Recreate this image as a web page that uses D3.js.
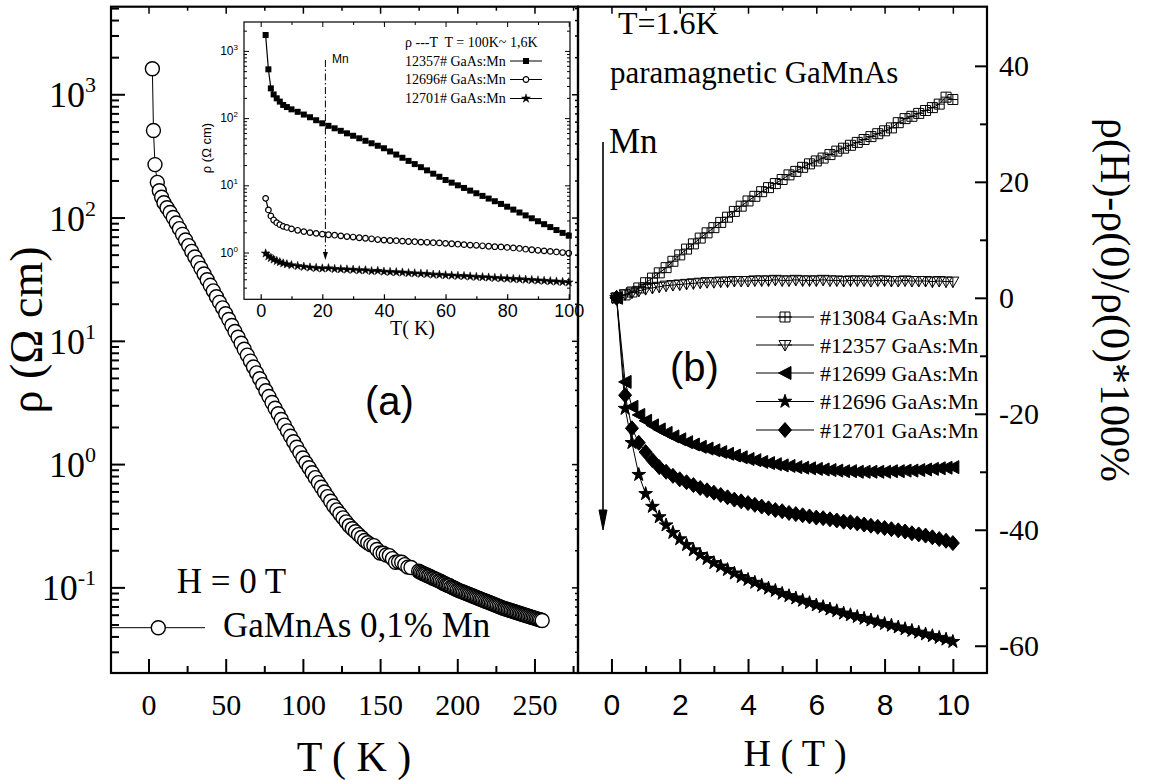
<!DOCTYPE html>
<html>
<head>
<meta charset="utf-8">
<script src="https://cdn.jsdelivr.net/npm/d3@7"></script>
<style>
  html, body { margin: 0; padding: 0; background: #fff; }
  svg { display: block; }
  text { white-space: pre; }
</style>
</head>
<body>
<svg id="chart" width="1160" height="780"></svg>
<script>
// ---------- (a) main panel: resistivity vs temperature, H = 0 ----------
const mainT = [2.5, 3.2, 4.2, 5.7, 7, 8.5,
  10, 12, 14, 16, 18, 20, 22, 24, 26, 28, 30, 32, 34, 36, 38, 40, 42, 44, 46, 48, 50,
  52, 54, 56, 58, 60, 62, 64, 66, 68, 70, 72, 74, 76, 78, 80, 82, 84, 86, 88, 90,
  92, 94, 96, 98, 100, 102, 104, 106, 108, 110, 112, 114, 116, 118, 120, 122, 124, 126, 128, 130,
  132, 134, 136, 138, 140, 142, 144, 146, 148, 150, 152, 154, 156, 158, 160, 162, 164, 166, 168, 170,
  175, 176, 177, 178, 179, 180, 181, 182, 183, 184, 185, 186, 187, 188, 189, 190, 191, 192, 193, 194,
  195, 196, 197, 198, 199, 200, 201, 202, 203, 204, 205, 206, 207, 208, 209, 210, 211, 212, 213, 214,
  215, 216, 217, 218, 219, 220, 221, 222, 223, 224, 225, 226, 227, 228, 229, 230, 231, 232, 233, 234,
  235, 236, 237, 238, 239, 240, 241, 242, 243, 244, 245, 246, 247, 248, 249, 250, 251, 252, 253, 254, 255];
const mainRho = [1610, 508, 269, 193, 165, 146,
  132, 120, 110, 100, 90.2, 81.3, 73.1, 65.8, 59.2, 53.2, 47.9, 43.1, 38.7, 34.8, 31.3, 28.2, 25.4, 22.8, 20.5, 18.5, 16.6,
  14.9, 13.3, 11.9, 10.7, 9.55, 8.55, 7.66, 6.85, 6.14, 5.50, 4.92, 4.41, 3.94, 3.53, 3.16, 2.84, 2.56, 2.30, 2.07, 1.86,
  1.68, 1.52, 1.37, 1.24, 1.12, 1.02, 0.933, 0.851, 0.776, 0.708, 0.649, 0.594, 0.545, 0.499, 0.457, 0.425, 0.394, 0.366, 0.340, 0.316,
  0.299, 0.283, 0.268, 0.254, 0.240, 0.230, 0.221, 0.218, 0.203, 0.190, 0.189, 0.183, 0.181, 0.171, 0.160, 0.161, 0.160, 0.153, 0.146, 0.145,
  0.135, 0.133, 0.131, 0.129, 0.128, 0.126, 0.124, 0.123, 0.121, 0.119, 0.118, 0.116, 0.115, 0.113, 0.112, 0.110, 0.108, 0.107, 0.105, 0.104,
  0.103, 0.101, 0.0997, 0.0983, 0.0970, 0.0955, 0.0944, 0.0933, 0.0923, 0.0912, 0.0902, 0.0891, 0.0881, 0.0871, 0.0861, 0.0851, 0.0841, 0.0832, 0.0822, 0.0813,
  0.0803, 0.0794, 0.0785, 0.0776, 0.0767, 0.0759, 0.0750, 0.0741, 0.0733, 0.0725, 0.0716, 0.0708, 0.0700, 0.0692, 0.0684, 0.0676, 0.0670, 0.0664, 0.0658, 0.0652,
  0.0646, 0.0640, 0.0634, 0.0628, 0.0622, 0.0617, 0.0611, 0.0606, 0.0600, 0.0595, 0.0589, 0.0584, 0.0579, 0.0573, 0.0568, 0.0563, 0.0558, 0.0553, 0.0548, 0.0543, 0.0538];
const mainTTicks = [0, 50, 100, 150, 200, 250];
const mainTMinor = [25, 75, 125, 175, 225, 275];
const mainRhoDecades = [0.1, 1, 10, 100, 1000];
const mainRhoExp = ["-1", "0", "1", "2", "3"];

// ---------- inset: low-temperature resistivity of three samples ----------
const insetT = [1.6, 2.5, 3.3, 4.2, 5.2, 6.2, 7.3, 8.5,
  10, 12, 14, 16, 18, 20, 22, 24, 26, 28, 30, 32, 34, 36, 38, 40, 42, 44, 46, 48, 50,
  52, 54, 56, 58, 60, 62, 64, 66, 68, 70, 72, 74, 76, 78, 80, 82, 84, 86, 88, 90, 92, 94, 96, 98, 100];
const inset12357 = [1725, 532, 277, 225, 197, 176, 157, 146,
  135, 124, 113, 103, 93, 83.7, 76.8, 70.5, 64.7, 59.4, 54.6, 50.1, 46.0, 42.2, 38.8, 35.6, 31.9, 28.7, 25.7, 23.1, 20.7,
  18.6, 16.7, 14.9, 13.4, 12.0, 10.96, 10.0, 9.14, 8.34, 7.62, 6.96, 6.35, 5.80, 5.29, 4.81, 4.35, 3.94, 3.57, 3.23, 2.92, 2.64, 2.39, 2.16, 1.96, 1.78];
const inset12696 = [6.4, 4.3, 3.5, 3.05, 2.78, 2.6, 2.45, 2.36,
  2.25, 2.14, 2.05, 1.98, 1.93, 1.88, 1.84, 1.81, 1.77, 1.73, 1.70, 1.66, 1.63, 1.60, 1.56, 1.53, 1.51, 1.50, 1.48, 1.46, 1.45,
  1.43, 1.42, 1.40, 1.39, 1.37, 1.35, 1.33, 1.31, 1.29, 1.28, 1.26, 1.24, 1.22, 1.21, 1.19, 1.17, 1.15, 1.12, 1.10, 1.08, 1.06, 1.04, 1.02, 1.00, 0.98];
const inset12701 = [0.97, 0.88, 0.83, 0.79, 0.75, 0.72, 0.69, 0.67,
  0.65, 0.63, 0.615, 0.60, 0.59, 0.58, 0.585, 0.57, 0.565, 0.56, 0.555, 0.545, 0.545, 0.53, 0.535, 0.52, 0.515, 0.51, 0.505, 0.495, 0.49,
  0.485, 0.48, 0.47, 0.468, 0.46, 0.455, 0.45, 0.447, 0.44, 0.435, 0.43, 0.425, 0.42, 0.415, 0.41, 0.405, 0.40, 0.395, 0.39, 0.385, 0.38, 0.375, 0.37, 0.365, 0.36];
const insetTTicks = [0, 20, 40, 60, 80, 100];
const insetTMinor = [10, 30, 50, 70, 90];
const insetDecades = [1, 10, 100, 1000];
const insetExp = ["0", "1", "2", "3"];

// ---------- (b) magnetoresistance at T = 1.6 K ----------
const fieldH = [0.15, 0.4, 0.6, 0.8, 1.0, 1.2, 1.4, 1.6, 1.8, 2.0, 2.2, 2.4, 2.6, 2.8, 3.0, 3.2, 3.4, 3.6, 3.8, 4.0,
  4.2, 4.4, 4.6, 4.8, 5.0, 5.2, 5.4, 5.6, 5.8, 6.0, 6.2, 6.4, 6.6, 6.8, 7.0, 7.2, 7.4, 7.6, 7.8, 8.0,
  8.2, 8.4, 8.6, 8.8, 9.0, 9.2, 9.4, 9.6, 9.8, 10.0];
const mr13084 = [0, 0.5, 1.0, 1.7, 2.6, 3.4, 4.3, 5.2, 6.3, 7.4, 8.4, 9.3, 10.3, 11.2, 12.1, 13.0, 13.9, 14.9, 15.8, 16.7,
  17.5, 18.3, 19.0, 19.7, 20.4, 21.2, 21.8, 22.5, 23.1, 23.6, 24.1, 24.7, 25.3, 25.8, 26.3, 26.8, 27.3, 27.8, 28.3, 28.8,
  29.3, 30.2, 30.9, 31.3, 31.8, 32.3, 32.8, 33.4, 34.6, 34.2];
const mr12357 = [0, 0.6, 0.9, 1.2, 1.5, 1.7, 1.9, 2.1, 2.2, 2.3, 2.4, 2.5, 2.6, 2.7, 2.7, 2.8, 2.8, 2.9, 2.9, 2.9,
  3.0, 3.0, 3.0, 3.1, 3.0, 3.0, 3.1, 3.0, 3.0, 3.0, 3.1, 3.0, 3.0, 2.9, 3.0, 3.0, 3.0, 2.9, 3.0, 3.0,
  2.9, 2.9, 3.0, 2.9, 2.9, 2.9, 2.8, 2.9, 2.8, 2.8];
const mr12699 = [0, -14.5, -18.8, -20.2, -21.2, -22.0, -22.7, -23.3, -23.9, -24.4, -24.9, -25.3, -25.7, -26.0, -26.3, -26.6, -26.9, -27.2, -27.5, -27.8,
  -28.0, -28.3, -28.5, -28.7, -28.9, -29.0, -29.2, -29.3, -29.4, -29.5, -29.6, -29.7, -29.8, -29.9, -29.9, -30.0, -30.0, -30.0, -30.0, -30.0,
  -29.9, -29.9, -29.8, -29.8, -29.7, -29.6, -29.5, -29.4, -29.3, -29.2];
const mr12696 = [0, -19.1, -25.0, -30.5, -33.8, -36.0, -37.8, -39.2, -40.5, -41.6, -42.6, -43.5, -44.3, -45.0, -45.7, -46.3, -46.9, -47.5, -48.1, -48.6,
  -49.1, -49.6, -50.1, -50.5, -51.0, -51.4, -51.8, -52.2, -52.6, -53.0, -53.3, -53.7, -54.0, -54.4, -54.7, -55.0, -55.3, -55.6, -55.9, -56.2,
  -56.5, -56.8, -57.1, -57.4, -57.7, -58.0, -58.3, -58.6, -58.9, -59.3];
const mr12701 = [0, -16.8, -22.5, -25.0, -26.6, -28.0, -29.2, -30.0, -30.7, -31.3, -31.8, -32.3, -32.8, -33.2, -33.6, -34.0, -34.4, -34.8, -35.1, -35.4,
  -35.7, -36.0, -36.3, -36.6, -36.8, -37.1, -37.3, -37.5, -37.7, -37.9, -38.0, -38.2, -38.4, -38.6, -38.7, -38.9, -39.1, -39.3, -39.5, -39.7,
  -39.9, -40.1, -40.3, -40.6, -40.8, -41.0, -41.3, -41.6, -41.9, -42.3];
const fieldTicks = [0, 2, 4, 6, 8, 10];
const fieldMinor = [1, 3, 5, 7, 9];
const mrTicks = [-60, -40, -20, 0, 20, 40];
const mrMinor = [-50, -30, -10, 10, 30];
const mrSeriesNames = ["#13084 GaAs:Mn", "#12357 GaAs:Mn", "#12699 GaAs:Mn", "#12696 GaAs:Mn", "#12701 GaAs:Mn"];
const insetSeriesNames = ["12357# GaAs:Mn", "12696# GaAs:Mn", "12701# GaAs:Mn"];

// ---------- setup ----------
const serif = '"Liberation Serif", "Times New Roman", Times, serif';
const sans = '"Liberation Sans", Arial, Helvetica, sans-serif';
const svg = d3.select("#chart");

const A = { left: 111, right: 578, top: 6.7, bottom: 673 };
const B = { left: 578, right: 987, top: 6.7, bottom: 673 };
const I = { left: 244, right: 570, top: 22, bottom: 299.3 };

const xA = d3.scaleLinear([-24.3, 278.2], [A.left, A.right]);
const yA = d3.scaleLog([0.0202, 5134], [A.bottom, A.top]);
const xB = d3.scaleLinear([-0.98, 11.0], [B.left, B.right]);
const yB = d3.scaleLinear([-64.7, 50.2], [B.bottom, B.top]);
const xI = d3.scaleLinear([-5.42, 100.4], [I.left, I.right]);
const yI = d3.scaleLog([0.2014, 2692], [I.bottom, I.top]);

function logMinors(scale) {
  const [lo, hi] = scale.domain();
  const out = [];
  for (let e = -3; e <= 4; e++) {
    for (let k = 2; k <= 9; k++) {
      const v = k * Math.pow(10, e);
      if (v > lo && v < hi) out.push(v);
    }
  }
  return out;
}

function tickGroup(axis, transform, width) {
  const g = svg.append("g").attr("transform", transform).call(axis);
  g.select(".domain").remove();
  g.selectAll(".tick line").attr("stroke", "#000").attr("stroke-width", width);
  return g;
}

// ---------- panel (a) ticks ----------
tickGroup(d3.axisLeft(yA).tickValues(mainRhoDecades).tickSize(-14).tickFormat(""), `translate(${A.left},0)`, 2);
tickGroup(d3.axisLeft(yA).tickValues(logMinors(yA)).tickSize(-8).tickFormat(""), `translate(${A.left},0)`, 2);
tickGroup(d3.axisRight(yA).tickValues(mainRhoDecades).tickSize(-6).tickFormat(""), `translate(${A.right},0)`, 1.5);
tickGroup(d3.axisRight(yA).tickValues(logMinors(yA)).tickSize(-3).tickFormat(""), `translate(${A.right},0)`, 1.5);
const axA = tickGroup(d3.axisBottom(xA).tickValues(mainTTicks).tickSize(-14).tickPadding(20.7), `translate(0,${A.bottom})`, 2);
axA.selectAll("text").attr("font-family", serif).attr("font-size", 30).attr("fill", "#000");
tickGroup(d3.axisBottom(xA).tickValues(mainTMinor).tickSize(-7).tickFormat(""), `translate(0,${A.bottom})`, 2);
tickGroup(d3.axisTop(xA).tickValues(mainTTicks).tickSize(-7).tickFormat(""), `translate(0,${A.top})`, 1.5);
tickGroup(d3.axisTop(xA).tickValues(mainTMinor).tickSize(-4).tickFormat(""), `translate(0,${A.top})`, 1.5);

// decade labels with superscripts
mainRhoDecades.forEach((v, i) => {
  const t = svg.append("text").attr("x", 96).attr("y", yA(v) + 13)
    .attr("text-anchor", "end").attr("font-family", serif).attr("font-size", 36);
  t.append("tspan").text("10");
  t.append("tspan").attr("dy", -15).attr("font-size", 22).text(mainRhoExp[i]);
});

// ---------- panel (b) ticks ----------
const axB = tickGroup(d3.axisBottom(xB).tickValues(fieldTicks).tickSize(-14).tickPadding(20.7), `translate(0,${B.bottom})`, 2);
axB.selectAll("text").attr("font-family", sans).attr("font-size", 30).attr("fill", "#000");
tickGroup(d3.axisBottom(xB).tickValues(fieldMinor).tickSize(-7).tickFormat(""), `translate(0,${B.bottom})`, 2);
tickGroup(d3.axisTop(xB).tickValues(fieldTicks).tickSize(-7).tickFormat(""), `translate(0,${B.top})`, 1.5);
tickGroup(d3.axisTop(xB).tickValues(fieldMinor).tickSize(-4).tickFormat(""), `translate(0,${B.top})`, 1.5);
const ayB = tickGroup(d3.axisRight(yB).tickValues(mrTicks).tickSize(-12).tickPadding(12).tickFormat(d => String(d)), `translate(${B.right},0)`, 2);
ayB.selectAll("text").attr("font-family", serif).attr("font-size", 30).attr("fill", "#000");
tickGroup(d3.axisRight(yB).tickValues(mrMinor).tickSize(-7).tickFormat(""), `translate(${B.right},0)`, 2);

// ---------- panel (a) data ----------
const mainPts = mainT.map((t, i) => [t, mainRho[i]]);
svg.append("path").datum(mainPts)
  .attr("d", d3.line().x(d => xA(d[0])).y(d => yA(d[1])))
  .attr("fill", "none").attr("stroke", "#000").attr("stroke-width", 1);
svg.append("g").selectAll("circle").data(mainPts).join("circle")
  .attr("cx", d => xA(d[0])).attr("cy", d => yA(d[1])).attr("r", 7)
  .attr("fill", "#fff").attr("stroke", "#000").attr("stroke-width", 1.4);

// ---------- inset ----------
svg.append("rect").attr("x", I.left).attr("y", I.top)
  .attr("width", I.right - I.left).attr("height", I.bottom - I.top)
  .attr("fill", "#fff").attr("stroke", "none");

tickGroup(d3.axisLeft(yI).tickValues(insetDecades).tickSize(-5).tickFormat(""), `translate(${I.left},0)`, 1);
tickGroup(d3.axisLeft(yI).tickValues(logMinors(yI)).tickSize(-3).tickFormat(""), `translate(${I.left},0)`, 1);
tickGroup(d3.axisRight(yI).tickValues(insetDecades).tickSize(-5).tickFormat(""), `translate(${I.right},0)`, 1);
tickGroup(d3.axisRight(yI).tickValues(logMinors(yI)).tickSize(-3).tickFormat(""), `translate(${I.right},0)`, 1);
const axI = tickGroup(d3.axisBottom(xI).tickValues(insetTTicks).tickSize(-5).tickPadding(4.6), `translate(0,${I.bottom})`, 1.2);
axI.selectAll("text").attr("font-family", sans).attr("font-size", 18).attr("fill", "#000");
tickGroup(d3.axisBottom(xI).tickValues(insetTMinor).tickSize(-3).tickFormat(""), `translate(0,${I.bottom})`, 1.2);
tickGroup(d3.axisTop(xI).tickValues(insetTTicks).tickSize(-5).tickFormat(""), `translate(0,${I.top})`, 1);
tickGroup(d3.axisTop(xI).tickValues(insetTMinor).tickSize(-3).tickFormat(""), `translate(0,${I.top})`, 1);

insetDecades.forEach((v, i) => {
  const t = svg.append("text").attr("x", 238).attr("y", yI(v) + 4)
    .attr("text-anchor", "end").attr("font-family", sans).attr("font-size", 12);
  t.append("tspan").text("10");
  t.append("tspan").attr("dy", -5).attr("font-size", 8).text(insetExp[i]);
});

const insetLine = d3.line().x(d => xI(d[0])).y(d => yI(d[1]));
const starSmall = d3.symbol(d3.symbolStar, 24)();
const insetSeries = [
  { vals: inset12357, kind: "square" },
  { vals: inset12696, kind: "circle" },
  { vals: inset12701, kind: "star" }
];
function insetMarker(sel, kind) {
  if (kind === "square") {
    sel.append("rect").attr("x", -3).attr("y", -3).attr("width", 6).attr("height", 6).attr("fill", "#000");
  } else if (kind === "circle") {
    sel.append("circle").attr("r", 2.8).attr("fill", "#fff").attr("stroke", "#000").attr("stroke-width", 1.2);
  } else {
    sel.append("path").attr("d", starSmall).attr("fill", "#000").attr("stroke", "#000").attr("stroke-width", 0.5);
  }
}
insetSeries.forEach(s => {
  const pts = insetT.map((t, i) => [t, s.vals[i]]);
  svg.append("path").datum(pts).attr("d", insetLine)
    .attr("fill", "none").attr("stroke", "#000").attr("stroke-width", 1.2);
  svg.append("g").selectAll("g").data(pts).join("g")
    .attr("transform", d => `translate(${xI(d[0])},${yI(d[1])})`)
    .each(function () { insetMarker(d3.select(this), s.kind); });
});

svg.append("rect").attr("x", I.left).attr("y", I.top)
  .attr("width", I.right - I.left).attr("height", I.bottom - I.top)
  .attr("fill", "none").attr("stroke", "#000").attr("stroke-width", 1.2);

// inset legend
svg.append("text").attr("x", 405).attr("y", 47).attr("font-family", serif).attr("font-size", 14)
  .text("\u03c1 ---T  T = 100K~ 1,6K");
const insetRowY = [61, 79.5, 98.5];
insetSeriesNames.forEach((name, i) => {
  svg.append("text").attr("x", 405).attr("y", insetRowY[i] + 4.6).attr("font-family", serif).attr("font-size", 14).text(name);
  svg.append("line").attr("x1", 510).attr("x2", 542).attr("y1", insetRowY[i]).attr("y2", insetRowY[i])
    .attr("stroke", "#000").attr("stroke-width", 1);
  const g = svg.append("g").attr("transform", `translate(526,${insetRowY[i]})`);
  insetMarker(g, insetSeries[i].kind);
});

// inset Mn arrow (dash-dot)
svg.append("line").attr("x1", xI(21)).attr("x2", xI(21)).attr("y1", 60).attr("y2", 253)
  .attr("stroke", "#000").attr("stroke-width", 1).attr("stroke-dasharray", "7,2.5,1.5,2.5");
svg.append("path").attr("d", `M${xI(21) - 2.5},252L${xI(21) + 2.5},252L${xI(21)},260Z`).attr("fill", "#000");
svg.append("text").attr("x", 332).attr("y", 63).attr("font-family", sans).attr("font-size", 12).text("Mn");

svg.append("text").attr("x", 412.5).attr("y", 335).attr("text-anchor", "middle")
  .attr("font-family", serif).attr("font-size", 20).text("T( K)");
svg.append("text").attr("transform", "translate(211,148) rotate(-90)").attr("text-anchor", "middle")
  .attr("font-family", sans).attr("font-size", 13).text("\u03c1 (\u03a9 cm)");

// ---------- panel (b) data ----------
const shapes = [
  { d: "M-5,-5H5V5H-5Z M-5,0H5 M0,-5V5", fill: "none" },
  { d: "M-6,-4.5H6L0,6Z M0,-4.5V6", fill: "none" },
  { d: "M-6.5,0L6,-6.5L6,6.5Z", fill: "#000" },
  { d: d3.symbol(d3.symbolStar, 58)(), fill: "#000" },
  { d: "M0,-7.5L6.5,0L0,7.5L-6.5,0Z", fill: "#000" }
];
const mrSeries = [mr13084, mr12357, mr12699, mr12696, mr12701];
const lineB = d3.line().x(d => xB(d[0])).y(d => yB(d[1]));
mrSeries.forEach((vals, si) => {
  const pts = fieldH.map((h, i) => [h, vals[i]]);
  svg.append("path").datum(pts).attr("d", lineB)
    .attr("fill", "none").attr("stroke", "#000").attr("stroke-width", 1);
  svg.append("g").selectAll("path").data(pts).join("path")
    .attr("transform", d => `translate(${xB(d[0])},${yB(d[1])})`)
    .attr("d", shapes[si].d).attr("fill", shapes[si].fill)
    .attr("stroke", "#000").attr("stroke-width", 1);
});

// panel (b) legend
const legRowY = [317, 345, 373, 401.5, 430];
mrSeriesNames.forEach((name, i) => {
  svg.append("line").attr("x1", 756).attr("x2", 814).attr("y1", legRowY[i]).attr("y2", legRowY[i])
    .attr("stroke", "#000").attr("stroke-width", 1);
  svg.append("path").attr("transform", `translate(785,${legRowY[i]})`)
    .attr("d", shapes[i].d).attr("fill", shapes[i].fill === "none" ? "#fff" : "#000")
    .attr("stroke", "#000").attr("stroke-width", 1);
  if (shapes[i].fill === "none") {
    svg.append("line").attr("x1", 778).attr("x2", 792).attr("y1", legRowY[i]).attr("y2", legRowY[i])
      .attr("stroke", "#000").attr("stroke-width", 1);
  }
  svg.append("text").attr("x", 820).attr("y", legRowY[i] + 7.5)
    .attr("font-family", serif).attr("font-size", 22).text(name);
});

// Mn arrow in panel (b)
svg.append("line").attr("x1", 603).attr("x2", 603).attr("y1", 142).attr("y2", 512)
  .attr("stroke", "#000").attr("stroke-width", 1.6);
svg.append("path").attr("d", "M599,510L607,510L603,530Z").attr("fill", "#000").attr("stroke", "#000").attr("stroke-width", 1);

// ---------- frames ----------
svg.append("rect").attr("x", A.left).attr("y", A.top).attr("width", A.right - A.left).attr("height", A.bottom - A.top)
  .attr("fill", "none").attr("stroke", "#000").attr("stroke-width", 2.2);
svg.append("rect").attr("x", B.left).attr("y", B.top).attr("width", B.right - B.left).attr("height", B.bottom - B.top)
  .attr("fill", "none").attr("stroke", "#000").attr("stroke-width", 2.2);

// ---------- text annotations ----------
function txt(x, y, s, size, family, anchor) {
  return svg.append("text").attr("x", x).attr("y", y).attr("font-family", family)
    .attr("font-size", size).attr("text-anchor", anchor || "start").attr("fill", "#000").text(s);
}
txt(176.7, 593, "H = 0 T", 35, serif);
svg.append("line").attr("x1", 112).attr("x2", 205).attr("y1", 627.7).attr("y2", 627.7).attr("stroke", "#000").attr("stroke-width", 1);
svg.append("circle").attr("cx", 158.3).attr("cy", 627.7).attr("r", 7).attr("fill", "#fff").attr("stroke", "#000").attr("stroke-width", 1.4);
txt(223, 637, "GaMnAs 0,1% Mn", 35, serif);
txt(365, 415, "(a)", 40, sans);
txt(670, 381, "(b)", 40, sans);
txt(618, 34, "T=1.6K", 32, serif);
txt(610, 83, "paramagnetic GaMnAs", 31, serif);
txt(609, 153, "Mn", 35, serif);

// axis titles
txt(354, 771, "T ( K )", 42, serif, "middle");
txt(795, 766, "H ( T )", 38, serif, "middle");
svg.append("text").attr("transform", "translate(42,330) rotate(-90)").attr("text-anchor", "middle")
  .attr("font-family", serif).attr("font-size", 46).text("\u03c1 (\u03a9 cm)");
svg.append("text").attr("transform", "translate(1101,300) rotate(90)").attr("text-anchor", "middle")
  .attr("font-family", serif).attr("font-size", 42).text("\u03c1(H)-\u03c1(0)/\u03c1(0)*100%");
</script>
</body>
</html>
